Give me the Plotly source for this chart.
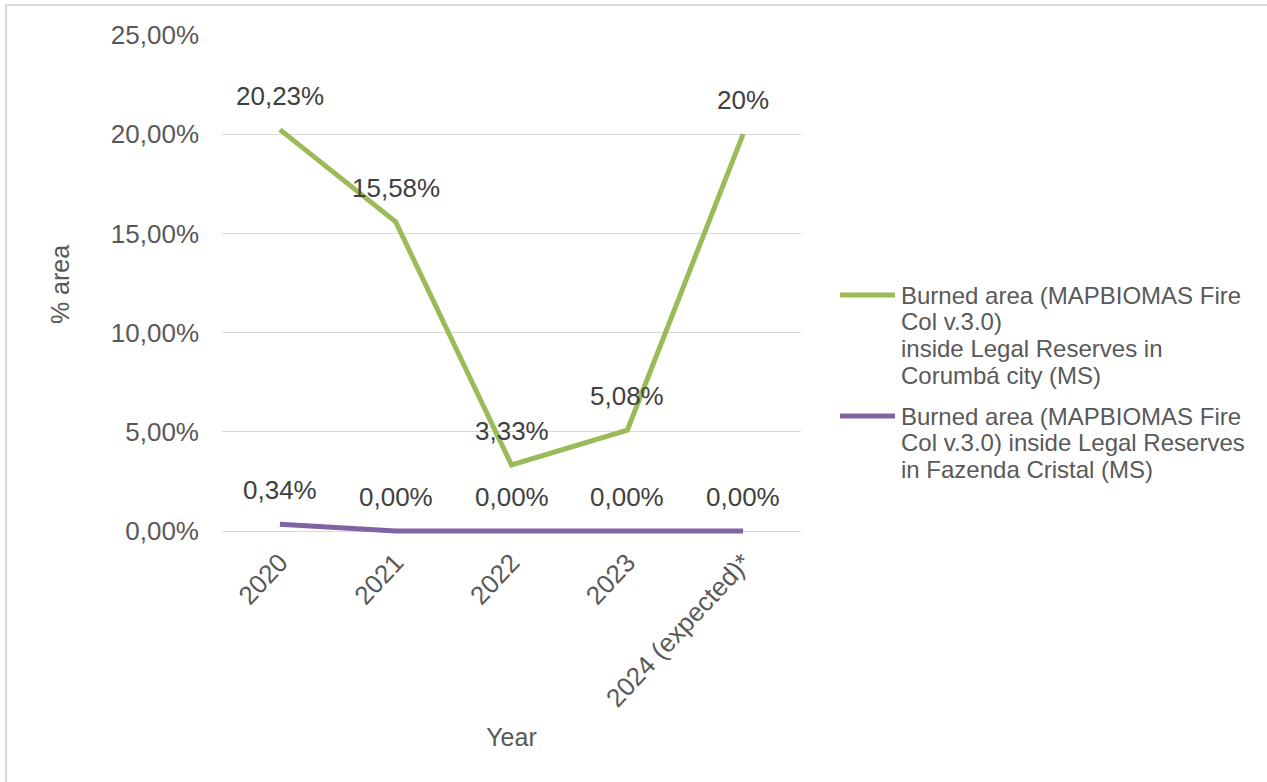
import plotly.graph_objects as go

years = ["2020", "2021", "2022", "2023", "2024 (expected)*"]
corumba = [0.2023, 0.1558, 0.0333, 0.0508, 0.20]
corumba_labels = ["20,23%", "15,58%", "3,33%", "5,08%", "20%"]
cristal = [0.0034, 0.0, 0.0, 0.0, 0.0]
cristal_labels = ["0,34%", "0,00%", "0,00%", "0,00%", "0,00%"]
legend_corumba = ["Burned area (MAPBIOMAS Fire", "Col v.3.0)", "inside Legal Reserves in", "Corumbá city (MS)"]
legend_cristal = ["Burned area (MAPBIOMAS Fire", "Col v.3.0) inside Legal Reserves", "in Fazenda Cristal (MS)"]

FONT = "Liberation Sans, Arial, sans-serif"
GREEN = "#9BBB59"
PURPLE = "#8064A2"
GREY = "#595959"

fig = go.Figure()
fig.add_trace(go.Scatter(x=years, y=corumba, mode="lines", name=" ".join(legend_corumba),
                         line=dict(color=GREEN, width=5), showlegend=False))
fig.add_trace(go.Scatter(x=years, y=cristal, mode="lines", name=" ".join(legend_cristal),
                         line=dict(color=PURPLE, width=5), showlegend=False))

# plot area: 0% at y=531 px, 25% at y=35 px; y range padded 3 px below zero so the line is not clipped
W, H = 1267, 782
L, R, T = 222, 466, 35
PAD = 3
B = 782 - 531 - PAD
pw, ph = W - L - R, H - T - B
YMAX = 0.25
ymin = -YMAX * PAD / (531 - 35)

def px_x(px):
    return (px - L) / pw

def px_y(py):
    return (H - B - py) / ph

annotations = []
for ys, labs in [(corumba, corumba_labels), (cristal, cristal_labels)]:
    for i, (y, t) in enumerate(zip(ys, labs)):
        annotations.append(dict(x=i, y=y, xref="x", yref="y", text=t, showarrow=False,
                                yshift=34, font=dict(family=FONT, size=26, color="#404040")))

shapes = [dict(type="rect", xref="paper", yref="paper",
               x0=px_x(6), x1=px_x(1290), y0=px_y(800), y1=px_y(5),
               line=dict(color="#D9D9D9", width=2), fillcolor="rgba(0,0,0,0)", layer="below")]

# manual legend (line sample + text lines)
for color, lines, y0 in [(GREEN, legend_corumba, 295), (PURPLE, legend_cristal, 416)]:
    shapes.append(dict(type="line", xref="paper", yref="paper",
                       x0=px_x(840), x1=px_x(895), y0=px_y(y0), y1=px_y(y0),
                       line=dict(color=color, width=5)))
    for k, txt in enumerate(lines):
        annotations.append(dict(x=px_x(899), y=px_y(y0 + k * 26.8), xref="paper", yref="paper",
                                xanchor="left", yanchor="middle", text=txt, showarrow=False,
                                font=dict(family=FONT, size=24, color=GREY)))

fig.update_layout(
    width=W, height=H,
    margin=dict(l=L, r=R, t=T, b=B, autoexpand=False),
    paper_bgcolor="white", plot_bgcolor="white",
    separators=",.",
    font=dict(family=FONT, size=24, color=GREY),
    showlegend=False,
    annotations=annotations,
    shapes=shapes,
)
fig.update_xaxes(type="category", range=[-0.5, 4.5], showgrid=False, showline=False,
                 zeroline=False, ticks="", tickangle=-47,
                 tickfont=dict(family=FONT, size=26, color=GREY),
                 ticklabelstandoff=7,
                 title=dict(text="Year", font=dict(family=FONT, size=25, color=GREY),
                            standoff=16))
fig.update_yaxes(range=[ymin, YMAX], tick0=0, dtick=0.05, tickformat=".2%", showgrid=True,
                 gridcolor="#D9D9D9", gridwidth=1.3, zeroline=False, showline=False,
                 tickfont=dict(family=FONT, size=26, color=GREY),
                 ticklabelstandoff=22,
                 title=dict(text="% area", font=dict(family=FONT, size=25, color=GREY),
                            standoff=34))

fig.write_html("out.html")
